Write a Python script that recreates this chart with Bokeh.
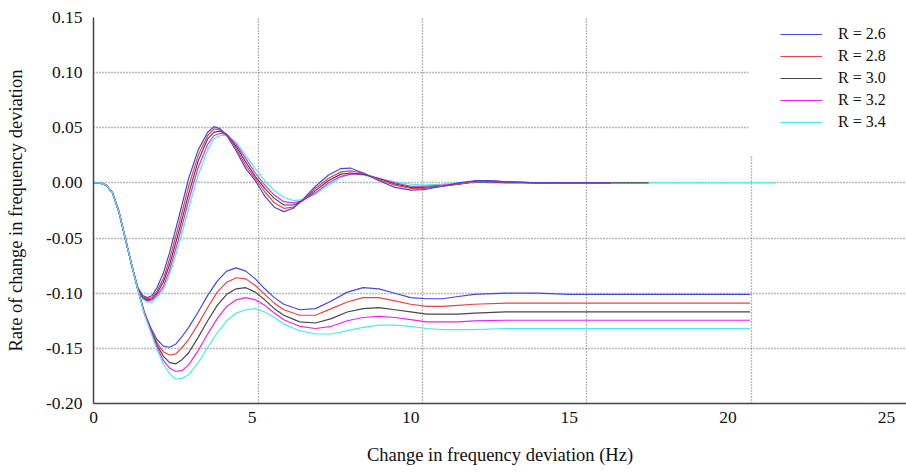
from bokeh.plotting import figure
from bokeh.models import Range1d, FixedTicker, Legend, LegendItem, BoxAnnotation
from bokeh.embed import file_html
from bokeh.resources import INLINE

# ---------------- data ----------------
R_LABELS = ["R = 2.6", "R = 2.8", "R = 3.0", "R = 3.2", "R = 3.4"]
COLORS = ["#4646e6", "#ee4040", "#474747", "#f020f0", "#45eeee"]

# frequency-deviation curves (lower family)
T_DEV = [0, 0.2, 0.4, 0.6, 0.8, 1.0, 1.2, 1.4,
         1.6, 1.8, 2.0, 2.2, 2.4, 2.6, 2.8, 3.0,
         3.3, 3.6, 3.9, 4.2, 4.5, 4.8, 5.1, 5.4, 5.7, 6.0,
         6.5, 7.0, 7.5, 8.0, 8.5, 9.0, 9.5, 10.0, 10.5, 11.0, 11.5, 12.0,
         13.0, 14.0, 15.0, 16.0, 17.0, 18.0, 19.0, 20.7]
DEV_26 = [0, 0, -0.002, -0.009, -0.026, -0.050, -0.074, -0.097,
          -0.117, -0.131, -0.142, -0.148, -0.149, -0.146, -0.139, -0.131,
          -0.117, -0.102, -0.089, -0.080, -0.077, -0.080, -0.087, -0.096, -0.104, -0.110,
          -0.115, -0.114, -0.107, -0.099, -0.095, -0.096, -0.100, -0.104, -0.105, -0.105, -0.103, -0.101,
          -0.100, -0.100, -0.101, -0.101, -0.101, -0.101, -0.101, -0.101]
DEV_28 = [0, 0, -0.002, -0.009, -0.026, -0.050, -0.074, -0.097,
          -0.117, -0.132, -0.145, -0.153, -0.156, -0.155, -0.149, -0.142,
          -0.128, -0.113, -0.099, -0.090, -0.086, -0.087, -0.093, -0.101, -0.109, -0.115,
          -0.120, -0.120, -0.114, -0.108, -0.104, -0.104, -0.107, -0.110, -0.112, -0.112, -0.111, -0.110,
          -0.109, -0.109, -0.109, -0.109, -0.109, -0.109, -0.109, -0.109]
DEV_30 = [0, 0, -0.002, -0.009, -0.026, -0.050, -0.074, -0.097,
          -0.118, -0.133, -0.147, -0.157, -0.163, -0.164, -0.160, -0.154,
          -0.140, -0.125, -0.111, -0.101, -0.096, -0.095, -0.099, -0.106, -0.114, -0.120,
          -0.126, -0.127, -0.123, -0.117, -0.114, -0.113, -0.115, -0.117, -0.119, -0.119, -0.119, -0.118,
          -0.117, -0.117, -0.117, -0.117, -0.117, -0.117, -0.117, -0.117]
DEV_32 = [0, 0, -0.002, -0.009, -0.026, -0.050, -0.074, -0.097,
          -0.118, -0.134, -0.149, -0.161, -0.168, -0.171, -0.170, -0.165,
          -0.152, -0.137, -0.123, -0.112, -0.106, -0.104, -0.106, -0.111, -0.118, -0.124,
          -0.130, -0.132, -0.130, -0.125, -0.122, -0.121, -0.122, -0.124, -0.126, -0.126, -0.126, -0.125,
          -0.1245, -0.1245, -0.1245, -0.1245, -0.1245, -0.1245, -0.1245, -0.1245]
DEV_34 = [0, 0, -0.002, -0.009, -0.026, -0.050, -0.074, -0.097,
          -0.119, -0.135, -0.151, -0.164, -0.173, -0.178, -0.177, -0.174,
          -0.163, -0.149, -0.136, -0.125, -0.118, -0.115, -0.114, -0.117, -0.122, -0.128,
          -0.134, -0.137, -0.137, -0.134, -0.131, -0.129, -0.129, -0.130, -0.132, -0.133, -0.133, -0.133,
          -0.132, -0.132, -0.132, -0.132, -0.132, -0.132, -0.132, -0.132]

# rate-of-change curves (upper family)
T_RATE = [0, 0.2, 0.4, 0.6, 0.8, 1.0, 1.2,
          1.4, 1.55, 1.7, 1.85, 2.0, 2.2,
          2.4, 2.7, 3.0, 3.3, 3.6, 3.8, 4.0, 4.2,
          4.5, 4.8, 5.1, 5.4, 5.7, 6.0, 6.3, 6.6,
          7.0, 7.4, 7.8, 8.1, 8.5, 9.0, 9.5, 10.0, 10.4,
          11.0, 11.5, 12.0, 12.5, 13.0, 14.0, 15.0, 16.3, 17.5, 21.5]
RATE_26 = [0, 0, -0.002, -0.009, -0.026, -0.050, -0.074,
           -0.095, -0.102, -0.104, -0.102, -0.095, -0.082,
           -0.063, -0.030, 0.004, 0.030, 0.046, 0.051, 0.049, 0.043,
           0.029, 0.013, 0.002, -0.012, -0.022, -0.026, -0.023, -0.015,
           -0.003, 0.007, 0.013, 0.0135, 0.009, 0.002, -0.004, -0.0065, -0.006,
           -0.003, 0.000, 0.002, 0.002, 0.001, 0, 0, 0, 0, 0]
RATE_28 = [0, 0, -0.002, -0.009, -0.026, -0.050, -0.074,
           -0.096, -0.103, -0.105, -0.104, -0.098, -0.087,
           -0.069, -0.037, -0.003, 0.025, 0.043, 0.049, 0.048, 0.044,
           0.031, 0.016, 0.004, -0.008, -0.018, -0.023, -0.022, -0.016,
           -0.005, 0.004, 0.010, 0.011, 0.009, 0.003, -0.002, -0.005, -0.005,
           -0.003, -0.001, 0.001, 0.002, 0.001, 0, 0, 0, 0, 0]
RATE_30 = [0, 0, -0.002, -0.009, -0.026, -0.050, -0.074,
           -0.096, -0.104, -0.106, -0.105, -0.100, -0.090,
           -0.074, -0.043, -0.010, 0.020, 0.040, 0.046, 0.047, 0.044,
           0.033, 0.019, 0.006, -0.005, -0.014, -0.020, -0.020, -0.016,
           -0.007, 0.002, 0.008, 0.009, 0.008, 0.004, -0.001, -0.004, -0.004,
           -0.003, -0.001, 0.001, 0.001, 0.001, 0, 0, 0, 0, 0]
RATE_32 = [0, 0, -0.002, -0.009, -0.026, -0.050, -0.074,
           -0.096, -0.104, -0.107, -0.106, -0.102, -0.094,
           -0.079, -0.049, -0.016, 0.014, 0.035, 0.043, 0.045, 0.044,
           0.035, 0.022, 0.009, -0.002, -0.011, -0.017, -0.018, -0.016,
           -0.009, 0.000, 0.006, 0.008, 0.008, 0.004, 0.000, -0.003, -0.003,
           -0.002, -0.001, 0.001, 0.001, 0, 0, 0, 0, 0, 0]
RATE_34 = [0, 0, -0.002, -0.009, -0.026, -0.050, -0.074,
           -0.096, -0.105, -0.108, -0.108, -0.104, -0.097,
           -0.083, -0.055, -0.023, 0.007, 0.030, 0.040, 0.043, 0.043,
           0.037, 0.025, 0.013, 0.002, -0.007, -0.013, -0.016, -0.015,
           -0.010, -0.002, 0.005, 0.008, 0.007, 0.004, 0.001, -0.001, -0.002,
           -0.001, 0.000, 0.001, 0, 0, 0, 0, 0, 0, 0]
RATE_END = [16.3, 16.3, 17.5, 16.3, 21.5]

X_TICKS = [0, 5, 10, 15, 20, 25]
X_GRID = [5.2, 10.37, 15.54, 20.74]
Y_TICKS = [-0.20, -0.15, -0.10, -0.05, 0.00, 0.05, 0.10, 0.15]
Y_TICK_LABELS = ["-0.20", "-0.15", "-0.10", "-0.05", "0.00", "0.05", "0.10", "0.15"]

DEV = [DEV_26, DEV_28, DEV_30, DEV_32, DEV_34]
RATE = [RATE_26, RATE_28, RATE_30, RATE_32, RATE_34]

# ---------------- figure ----------------
FONT = "Liberation Serif"
p = figure(width=906, height=472, output_backend="svg", toolbar_location=None,
           x_range=Range1d(0, 25.63), y_range=Range1d(-0.20, 0.15),
           min_border_left=93, min_border_right=0, min_border_top=17, min_border_bottom=69)
p.outline_line_color = None
p.background_fill_color = "white"
p.border_fill_color = "white"

p.xaxis.ticker = FixedTicker(ticks=X_TICKS)
p.yaxis.ticker = FixedTicker(ticks=Y_TICKS)
p.yaxis.major_label_overrides = {t: s for t, s in zip(Y_TICKS, Y_TICK_LABELS)}
p.xgrid.ticker = FixedTicker(ticks=X_GRID)
p.ygrid.ticker = FixedTicker(ticks=Y_TICKS)
for g in (p.xgrid, p.ygrid):
    g.grid_line_color = "#707070"
    g.grid_line_dash = "1 2"
    g.grid_line_width = 1.3

xax = p.xaxis[0]
yax = p.yaxis[0]
for ax in (xax, yax):
    ax.major_tick_out = 0
    ax.major_tick_in = 0
    ax.minor_tick_out = 0
    ax.minor_tick_in = 0
    ax.axis_line_color = "#444444"
    ax.axis_line_width = 1.5
    ax.major_label_text_font = FONT
    ax.major_label_text_font_size = "17.5px"
    ax.major_label_text_color = "#111111"
    ax.axis_label_text_font = FONT
    ax.axis_label_text_font_size = "18.5px"
    ax.axis_label_text_font_style = "normal"
    ax.axis_label_text_color = "#111111"

xax.axis_label = "Change in frequency deviation (Hz)"
yax.axis_label = "Rate of change in frequency deviation"
xax.major_label_standoff = 8
xax.axis_label_standoff = 19
yax.major_label_standoff = 11
yax.axis_label_standoff = 17

# white patch hiding the grid behind the legend area
mask = BoxAnnotation(left=20.65, bottom=0.025, fill_color="white", fill_alpha=1.0,
                     line_color=None, level="underlay")
p.add_layout(mask)

# upper family: draw in reverse order
for i in reversed(range(5)):
    xs = [t for t in T_RATE if t <= RATE_END[i]]
    ys = RATE[i][:len(xs)]
    p.line(xs, ys, line_color=COLORS[i], line_width=1.2)

items = []
for i in range(5):
    r = p.line(T_DEV, DEV[i], line_color=COLORS[i], line_width=1.2)
    items.append(LegendItem(label=R_LABELS[i], renderers=[r]))

legend = Legend(items=items, location=(687, 271), border_line_color=None,
                background_fill_color="white", background_fill_alpha=1.0,
                padding=6, margin=0, spacing=2, glyph_width=42, glyph_height=20,
                label_height=20, label_standoff=16,
                label_text_font=FONT, label_text_font_size="16px",
                label_text_color="#111111")
p.add_layout(legend, "center")

open("out.html", "w").write(file_html(p, INLINE))
